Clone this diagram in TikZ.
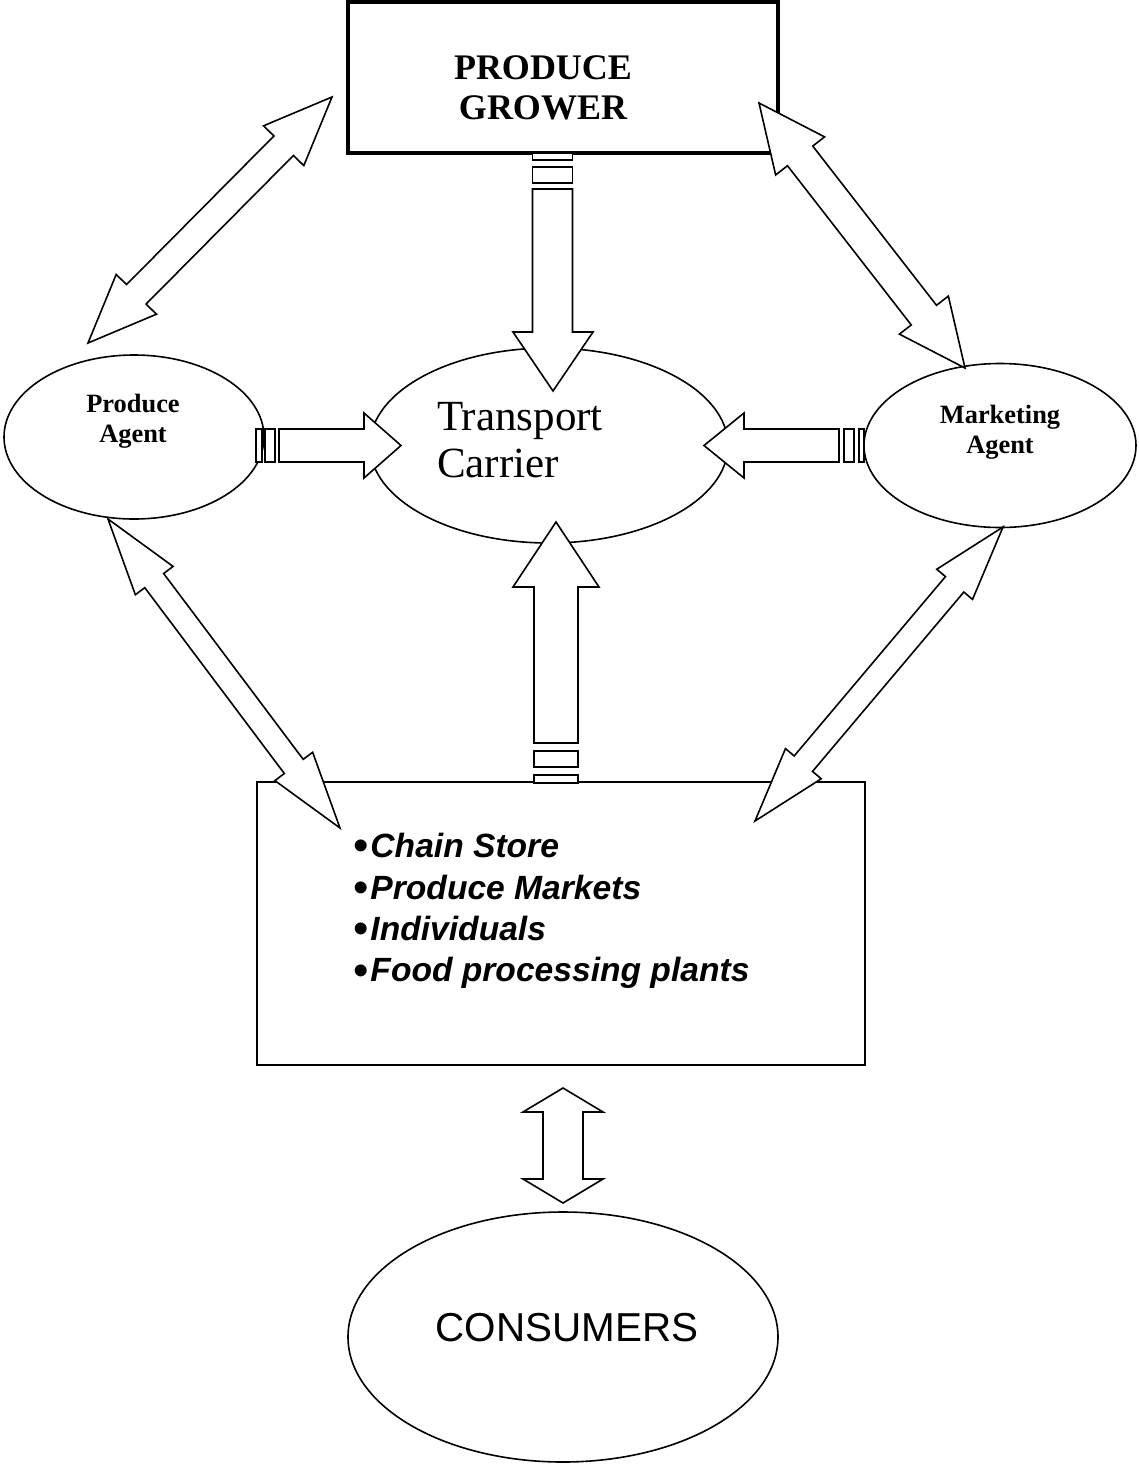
\documentclass[tikz,border=0pt]{standalone}
\usepackage{fontspec}
\setmainfont{Liberation Serif}
\newfontfamily\arialf{Liberation Sans}
\usetikzlibrary{calc,shapes.geometric}
\tikzset{
  oval/.style={draw, ellipse, line width=0.8pt, fill=white, inner sep=0pt},
  blockarr/.style={draw, fill=white, line width=0.8pt, line join=miter},
  stripe/.style={draw, fill=white, line width=0.8pt},
}
\newcommand\dblarrow[5]{%
\draw[blockarr] (#1)
 -- ($(#1)!#5!(#2)!#4!90:(#2)$)
 -- ($(#1)!#5!(#2)!#3!90:(#2)$)
 -- ($(#2)!#5!(#1)!#3!-90:(#1)$)
 -- ($(#2)!#5!(#1)!#4!-90:(#1)$)
 -- (#2)
 -- ($(#2)!#5!(#1)!#4!90:(#1)$)
 -- ($(#2)!#5!(#1)!#3!90:(#1)$)
 -- ($(#1)!#5!(#2)!#3!-90:(#2)$)
 -- ($(#1)!#5!(#2)!#4!-90:(#2)$)
 -- cycle;}
\newcommand\bul{{\normalfont\arialf\fontsize{22}{20.7}\selectfont\raisebox{-1.6pt}{•}}\kern1pt}
\begin{document}
\begin{tikzpicture}[x=0.5pt,y=-0.5pt]
\useasboundingbox (0,0) rectangle (1139,1464);
\fill[white] (0,0) rectangle (1139,1464);

% nodes
\node[draw, line width=1.75pt, minimum width=215pt, minimum height=75.5pt, inner sep=0pt] (grower) at (563,77.5) {};
\node[align=center, font=\fontsize{18}{20}\selectfont\bfseries] (growertext) at (543,88) {PRODUCE\\GROWER};

\node[oval, minimum width=179pt, minimum height=97.5pt] (transport) at (549,445.5) {};
\node[align=left, font=\fontsize{21.5}{23.5}\selectfont] (transporttext) at (520,440) {Transport\\Carrier};

\node[oval, minimum width=130pt, minimum height=82pt] (pagent) at (134,437) {};
\node[align=center, font=\fontsize{13.2}{15}\selectfont\bfseries] (pagenttext) at (133,421) {Produce\\Agent};

\node[oval, minimum width=136pt, minimum height=82pt] (magent) at (1000,445.5) {};
\node[align=center, font=\fontsize{13.2}{15}\selectfont\bfseries] (magenttext) at (1000,432) {Marketing\\Agent};

\node[draw, line width=0.8pt, minimum width=304pt, minimum height=141.5pt, inner sep=0pt] (outlets) at (561,923.5) {};
\node[anchor=west, align=left, font=\arialf\fontsize{16.8}{20.7}\selectfont\bfseries] (outlettext) at (346,911)
 {\bul\textit{Chain Store}\\
  \bul\textit{Produce Markets}\\
  \bul\textit{Individuals}\\
  \bul\textit{Food processing plants}};

\node[oval, minimum width=215pt, minimum height=125pt] (consumers) at (563,1337) {};
\node[font=\arialf\fontsize{20.2}{24}\selectfont] (consumertext) at (567,1328) {CONSUMERS};

% grower -> transport (striped down arrow)
\draw[stripe] (532.5,153) rectangle (572.5,160);
\draw[stripe] (532.5,167) rectangle (572.5,183);
\draw[blockarr] (532.5,189) -- (532.5,332) -- (513,332) -- (553,391) -- (593,332) -- (572.5,332) -- (572.5,189) -- cycle;

% outlets -> transport (striped up arrow)
\draw[stripe] (534,751) rectangle (578,767);
\draw[stripe] (534,775) rectangle (578,783);
\draw[blockarr] (534,743) -- (534,587) -- (513,587) -- (556,522) -- (599,587) -- (578,587) -- (578,743) -- cycle;

% produce agent -> transport
\draw[stripe] (256,429) rectangle (262,462);
\draw[stripe] (265,429) rectangle (275,462);
\draw[blockarr] (279,429) -- (364,429) -- (364,413) -- (401,445.5) -- (364,478) -- (364,462) -- (279,462) -- cycle;

% marketing agent -> transport
\draw[stripe] (859,429) rectangle (864,462);
\draw[stripe] (844,429) rectangle (854,462);
\draw[blockarr] (839,429) -- (744,429) -- (744,413) -- (704,445.5) -- (744,478) -- (744,462) -- (839,462) -- cycle;

% double arrows
\coordinate (ulA) at (88,343);   \coordinate (ulB) at (332,97);
\coordinate (urA) at (759,103);  \coordinate (urB) at (965,368);
\coordinate (llA) at (108,519);  \coordinate (llB) at (340,828);
\coordinate (lrA) at (1003,527); \coordinate (lrB) at (755,821);
\coordinate (vA) at (563,1088);  \coordinate (vB) at (563,1203);
\dblarrow{ulA}{ulB}{6.9pt}{14.15pt}{34.3pt}
\dblarrow{urA}{urB}{8pt}{15.5pt}{33.5pt}
\dblarrow{llA}{llB}{5.9pt}{11.8pt}{38.5pt}
\dblarrow{lrA}{lrB}{6pt}{11.7pt}{37.5pt}
\dblarrow{vA}{vB}{10pt}{20pt}{12pt}
\end{tikzpicture}
\end{document}
